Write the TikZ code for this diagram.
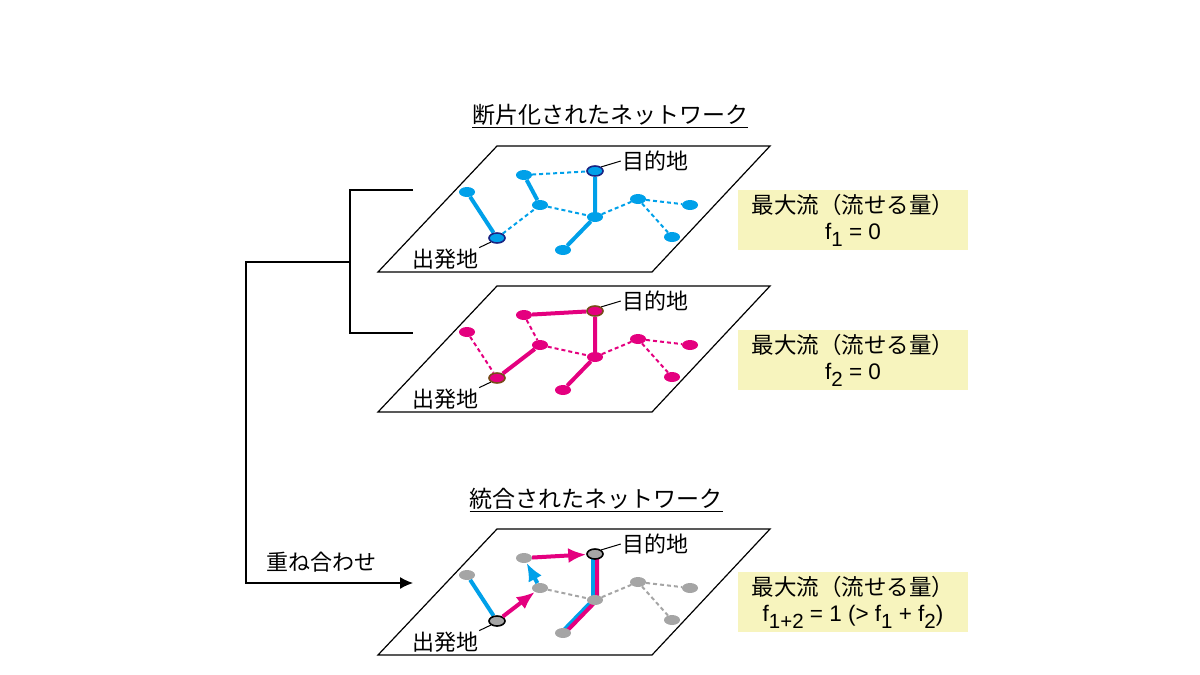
\documentclass[tikz,border=0pt]{standalone}
\usepackage{fontspec}
\setmainfont{Noto Sans CJK JP}
\newfontfamily\latinfont{Liberation Sans}
\usetikzlibrary{shapes.geometric, arrows.meta, backgrounds}

\definecolor{netblue}{RGB}{0,160,233}
\definecolor{netpink}{RGB}{228,0,127}
\definecolor{netgray}{RGB}{165,165,165}
\definecolor{navyedge}{RGB}{25,35,130}
\definecolor{brownedge}{RGB}{120,75,25}
\definecolor{boxyellow}{RGB}{247,244,190}

\newcommand{\lowsub}[1]{\raisebox{-7pt}{\fontsize{20.5}{20}\selectfont #1}}

\tikzset{
  plane/.style={draw, line width=1.2pt},
  dot/.style={ellipse, minimum width=16pt, minimum height=10pt, inner sep=0pt},
  enddot/.style={dot, draw, line width=1.6pt},
  solidedge/.style={line width=4pt},
  dashedge/.style={line width=2pt, dash pattern=on 4pt off 3pt},
  flowarrow/.style={line width=4pt, -{Latex[length=18pt,width=15pt]}},
  lbl/.style={font=\fontsize{22}{26}\selectfont, inner sep=1pt},
  titlelbl/.style={font=\fontsize{23}{26}\selectfont, inner sep=1pt},
  maxbox/.style={fill=boxyellow, minimum width=230pt, minimum height=60pt, align=center, inner sep=0pt, font=\fontsize{22.5}{26}\selectfont},
}

\begin{document}
\begin{tikzpicture}[x=1pt, y=-1pt]
  \useasboundingbox (0,0) rectangle (1200,675);

  % titles
  \node[titlelbl] (title1) at (610,116) {\underline{断片化されたネットワーク}};
  \node[titlelbl] (title2) at (596,500) {\underline{統合されたネットワーク}};

  % three layers: planes, nodes and labels
  \foreach \p/\dy/\c/\e in {t/0/netblue/navyedge, m/140/netpink/brownedge, b/383/netgray/black} {
    \begin{scope}[shift={(0,\dy)}]
      \draw[plane] (378,272) -- (652,272) -- (770,146) -- (497,146) -- cycle;
      \foreach \n/\x/\y in {1/467/192, 2/524/175, 3/540/205, 4/595/217, 5/563/250, 6/638/199, 7/690/205, 8/672/237}
        \node[dot, fill=\c] (\p\n) at (\x,\y) {};
      \node[enddot, fill=\c, draw=\e] (\p s) at (497,238) {};
      \node[enddot, fill=\c, draw=\e] (\p d) at (595,171) {};
      \node[lbl] (\p dl) at (655,161) {目的地};
      \node[lbl] (\p sl) at (445,259) {出発地};
      \draw[line width=1pt] (\p d.north east) -- (\p dl.west);
      \draw[line width=1pt] (\p s.south west) -- (\p sl.north east);
    \end{scope}
  }

  \begin{pgfonlayer}{background}
    % fragmented network 1
    \draw[solidedge, netblue] (t1) -- (ts) (t2) -- (t3) (td) -- (t4) -- (t5);
    \draw[dashedge, netblue] (ts) -- (t3) -- (t4) -- (t6) -- (t7) (t6) -- (t8) (t2) -- (td);
    % fragmented network 2
    \draw[solidedge, netpink] (m2) -- (md) -- (m4) -- (m5) (ms) -- (m3);
    \draw[dashedge, netpink] (m1) -- (ms) (m2) -- (m3) -- (m4) -- (m6) -- (m7) (m6) -- (m8);
    % merged network
    \draw[solidedge, netblue] (b1) -- (bs);
    \draw[solidedge, netblue, transform canvas={xshift=-2pt}] (bd.center) -- (b4.center) -- (b5.center);
    \draw[solidedge, netpink, transform canvas={xshift=2pt}] (bd.center) -- (b4.center) -- (b5.center);
    \draw[dashedge, netgray] (b3) -- (b4) -- (b6) -- (b7) (b6) -- (b8);
  \end{pgfonlayer}
  \draw[flowarrow, netpink] (bs) -- (b3);
  \draw[flowarrow, netblue] (b3) -- (b2);
  \draw[flowarrow, netpink] (b2) -- (bd);

  % max flow boxes
  \node[maxbox] (box1) at (853,220) {最大流（流せる量）\\{\latinfont f\lowsub{1} = 0}};
  \node[maxbox] (box2) at (853,360) {最大流（流せる量）\\{\latinfont f\lowsub{2} = 0}};
  \node[maxbox] (box3) at (853,602) {最大流（流せる量）\\{\latinfont f\lowsub{1+2} = 1 (> f\lowsub{1} + f\lowsub{2})}};

  % bracket and merge arrow
  \coordinate (top end) at (413,190);
  \coordinate (mid end) at (413,333);
  \coordinate (join) at (350,262);
  \coordinate (corner) at (246,262);
  \coordinate (arrow end) at (413,583);
  \draw[line width=1.3pt] (top end) -| (join) |- (mid end);
  \draw[line width=1.3pt, -{Latex[length=13pt,width=12pt]}] (join) -- (corner) |- (arrow end);
  \node[lbl] (merge) at (321,562) {重ね合わせ};
\end{tikzpicture}
\end{document}
